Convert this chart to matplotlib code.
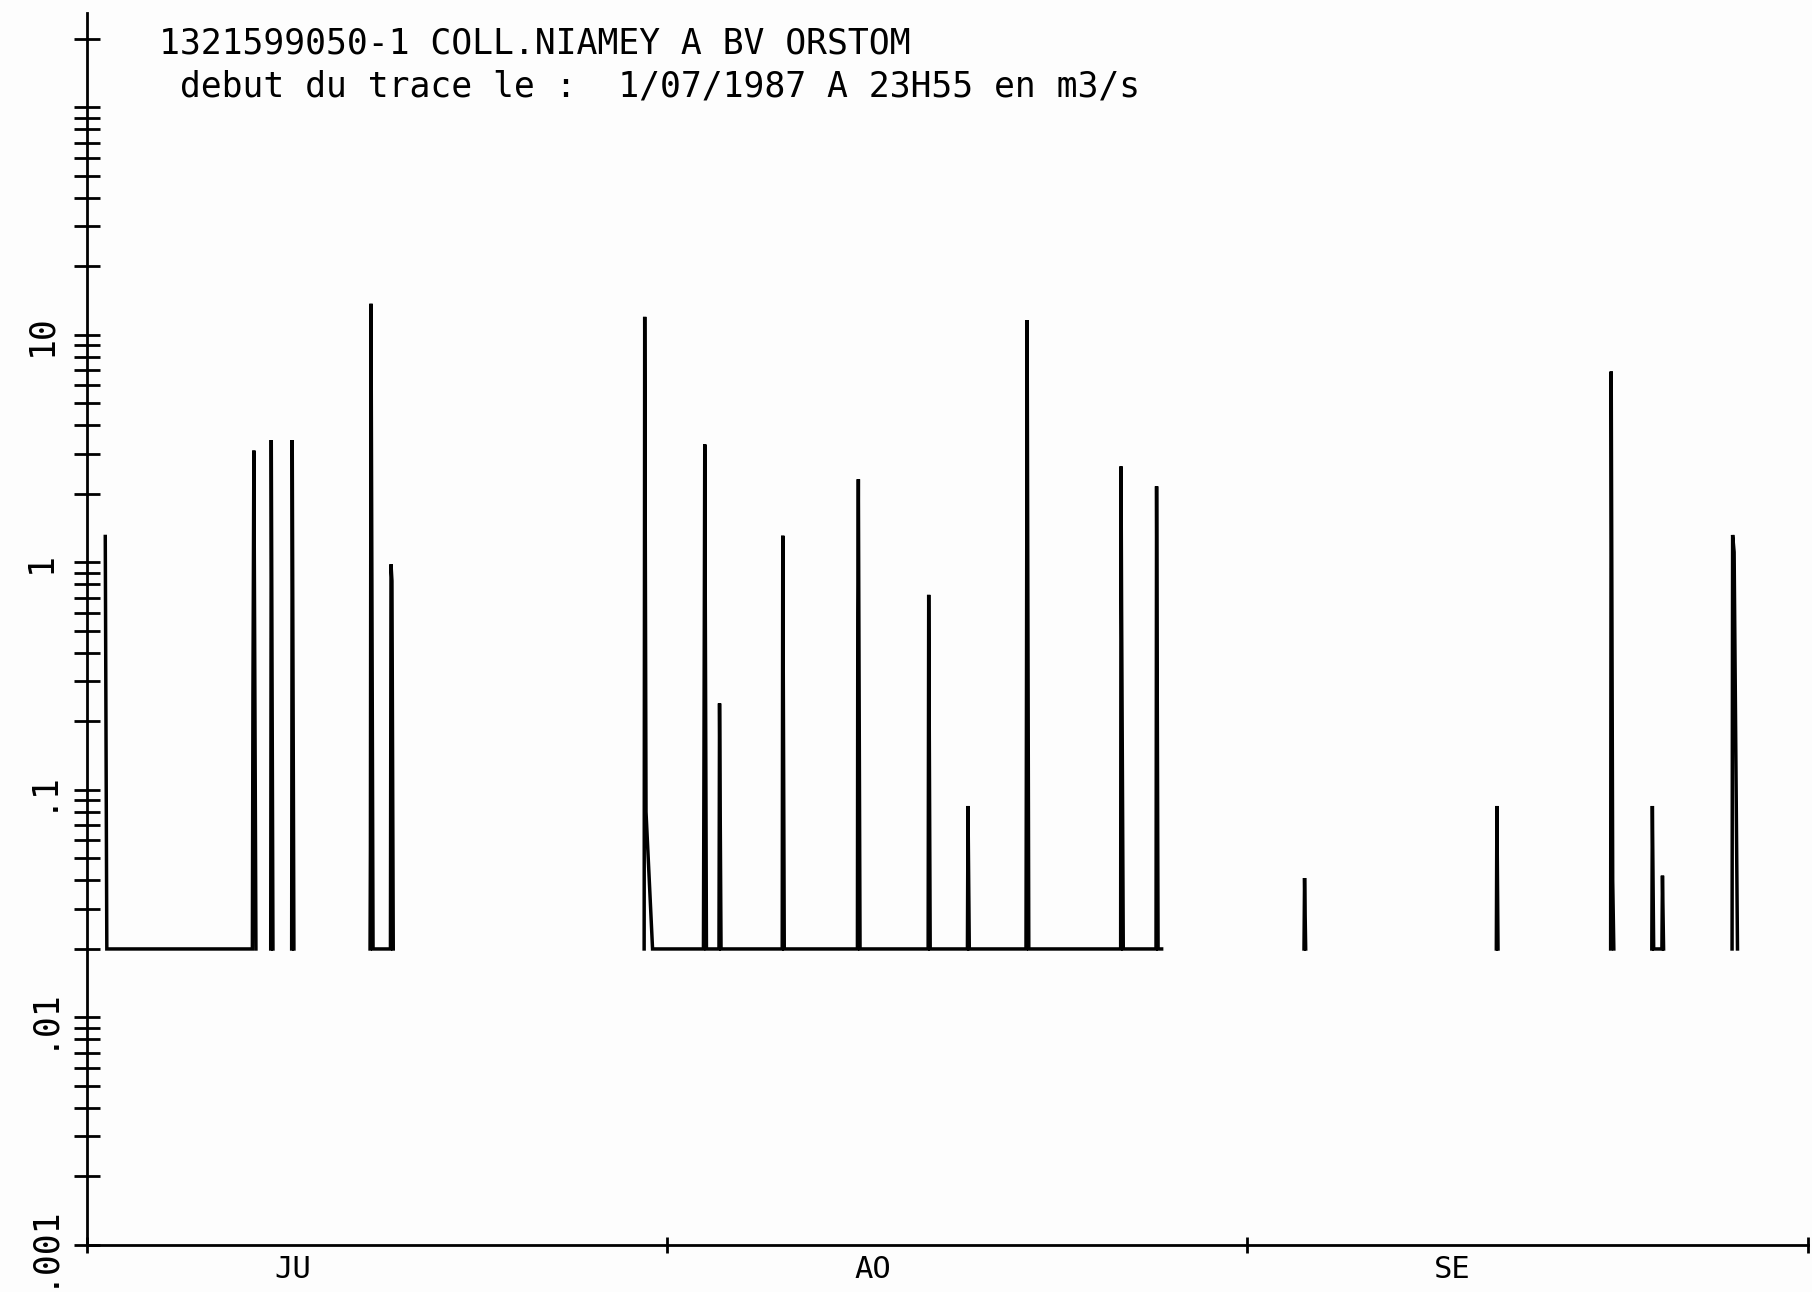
import numpy as np
import matplotlib.pyplot as plt
from matplotlib.ticker import FixedLocator, FixedFormatter, NullFormatter

# header of the plotter sheet
title_lines = ["1321599050-1 COLL.NIAMEY A BV ORSTOM",
               " debut du trace le :  1/07/1987 A 23H55 en m3/s"]

# months on the time axis (days from 1 July 1987)
months = ["JU", "AO", "SE"]
month_days = [31, 31, 30]

# log axis decades and their printed labels
decades = [0.001, 0.01, 0.1, 1, 10, 100]
decade_labels = [".001", ".01", ".1", "1", "10", ""]

# discharge record (m3/s), nan = gap in the record
nan = np.nan
t_day = [
    # July
    0.997, 1.08, 8.86, 8.89, 8.94, 9.05, nan,
    9.84, 9.87, 9.96, nan,
    10.96, 10.99, 11.08, nan,
    15.15, 15.17, 15.20, 15.31, 16.24, 16.27, 16.32, 16.39, nan,
    # August
    29.80, 29.83, 29.90, 30.25,
    32.97, 33.00, 33.04, 33.13,
    33.80, 33.83, 33.91,
    37.18, 37.21, 37.29,
    41.20, 41.22, 41.25, 41.34,
    44.98, 45.01, 45.09,
    47.08, 47.11, 47.18,
    50.21, 50.24, 50.27, 50.36,
    55.27, 55.29, 55.32, 55.41,
    57.16, 57.19, 57.27, 57.46, nan,
    # September
    65.07, 65.10, 65.16, nan,
    75.35, 75.38, 75.44, nan,
    81.46, 81.49, 81.57, 81.63, nan,
    83.66, 83.69, 83.76, 84.20, 84.23, 84.29, nan,
    87.95, 87.98, 88.06, 88.24,
]
q_m3s = [
    1.30, 0.02, 0.02, 0.26, 3.10, 0.02, nan,
    0.02, 3.45, 0.02, nan,
    0.02, 3.45, 0.02, nan,
    0.02, 0.055, 13.7, 0.02, 0.02, 0.98, 0.83, 0.02, nan,
    0.02, 12.0, 0.08, 0.02,
    0.02, 0.16, 3.30, 0.02,
    0.02, 0.24, 0.02,
    0.02, 1.31, 0.02,
    0.02, 0.60, 2.32, 0.02,
    0.02, 0.72, 0.02,
    0.02, 0.085, 0.02,
    0.02, 0.37, 11.6, 0.02,
    0.02, 2.64, 0.62, 0.02,
    0.02, 2.16, 0.02, 0.02, nan,
    0.02, 0.041, 0.02, nan,
    0.02, 0.085, 0.02, nan,
    0.02, 6.9, 0.04, 0.02, nan,
    0.02, 0.085, 0.02, 0.02, 0.042, 0.02, nan,
    0.02, 1.32, 1.11, 0.02,
]

mono = "DejaVu Sans Mono"
paper = "#fdfdfd"

fig = plt.figure(figsize=(18.12, 12.92), dpi=100, facecolor=paper)
ax = fig.add_axes([0.0478, 0.0364, 0.9499, 0.9536])
ax.set_facecolor(paper)

ax.plot(t_day, q_m3s, color="black", lw=2.5, solid_joinstyle="miter")

ax.set_yscale("log")
ax.set_ylim(0.001, 260)
ax.set_xlim(0, sum(month_days))

for side in ["top", "right"]:
    ax.spines[side].set_visible(False)
for side in ["left", "bottom"]:
    ax.spines[side].set_linewidth(2.0)
    ax.spines[side].set_color("black")

# y axis: every decade and 2..9 between, labels turned on their side
minor_y = [d * k for d in decades for k in range(2, 10) if d * k < 260]
ax.yaxis.set_major_locator(FixedLocator(decades))
ax.yaxis.set_major_formatter(FixedFormatter(decade_labels))
ax.yaxis.set_minor_locator(FixedLocator(minor_y))
ax.yaxis.set_minor_formatter(NullFormatter())
ax.tick_params(axis="y", which="both", direction="inout", length=19,
               width=2.0, color="black", pad=11)
for lab in ax.get_yticklabels():
    lab.set_rotation(90)
    lab.set_fontsize(25)
    lab.set_family(mono)
    lab.set_va("center")

# x axis: month boundaries as ticks, month names set early in the month
bounds = np.concatenate([[0], np.cumsum(month_days)])
ax.set_xticks(bounds)
ax.set_xticklabels([])
ax.set_xticks(bounds[:-1] + 11.0, minor=True)
ax.set_xticklabels(months, minor=True, fontsize=22, family=mono)
ax.tick_params(axis="x", which="major", direction="inout", length=11.5,
               width=2.0, color="black")
ax.tick_params(axis="x", which="minor", length=0, pad=7)

fig.text(0.0875, 0.9667, title_lines[0], fontsize=25, family=mono,
         va="center", ha="left")
fig.text(0.0875, 0.9327, title_lines[1], fontsize=25, family=mono,
         va="center", ha="left")

fig.savefig("out.png", dpi=100, facecolor=paper)
